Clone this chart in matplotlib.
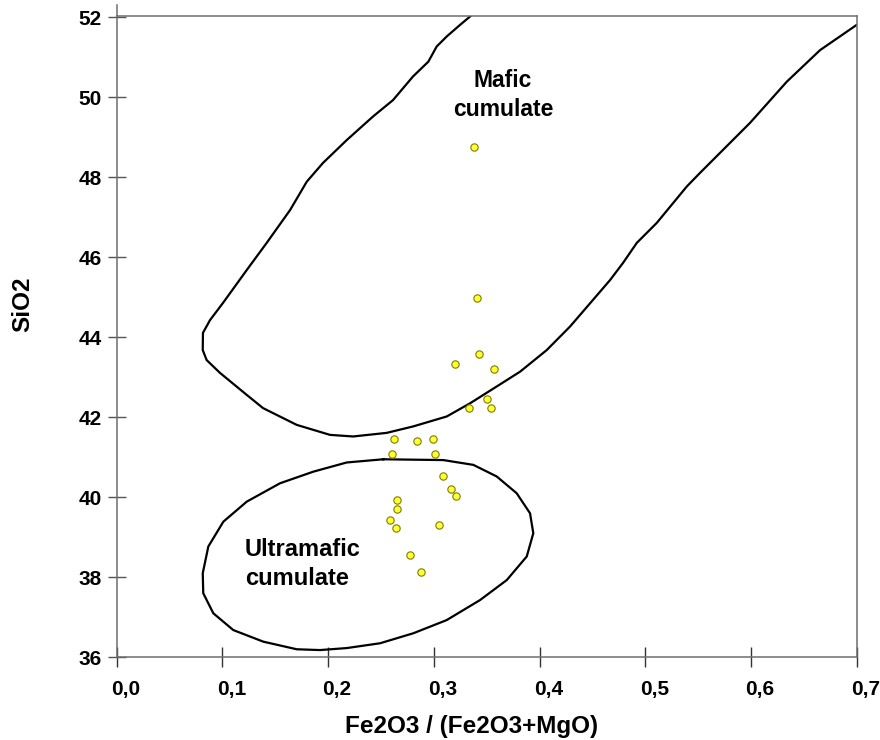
import matplotlib
matplotlib.use("Agg")
import matplotlib.pyplot as plt
from matplotlib.transforms import ScaledTranslation

plt.rcParams['font.family'] = ['Liberation Sans', 'DejaVu Sans']
plt.rcParams['font.weight'] = 'bold'

# ---- data -------------------------------------------------------------
sample_x = [0.338, 0.3406, 0.343, 0.3198, 0.3572, 0.3503, 0.3336, 0.3538,
            0.2626, 0.2841, 0.2995, 0.2607, 0.3009, 0.3087, 0.3163, 0.3207,
            0.2652, 0.2652, 0.2589, 0.2642, 0.3049, 0.2778, 0.2876]
sample_y = [48.76, 44.98, 43.58, 43.33, 43.20, 42.46, 42.22, 42.23,
            41.45, 41.40, 41.45, 41.09, 41.09, 40.53, 40.21, 40.03,
            39.93, 39.70, 39.43, 39.24, 39.31, 38.56, 38.12]

mafic_x = [0.3352, 0.3248, 0.3122, 0.3027, 0.2948, 0.2803, 0.2614, 0.2425,
           0.2176, 0.1952, 0.1798, 0.1640, 0.1419, 0.1230, 0.1006, 0.0883,
           0.0816, 0.0814, 0.0851, 0.0977, 0.1230, 0.1384, 0.1703, 0.2018,
           0.2236, 0.2554, 0.2803, 0.3122, 0.3343, 0.3595, 0.3816, 0.4068,
           0.4289, 0.4478, 0.4667, 0.4790, 0.4920, 0.5109, 0.5393, 0.5518,
           0.5991, 0.6339, 0.6654, 0.7000]
mafic_y = [52.04, 51.81, 51.52, 51.27, 50.89, 50.52, 49.93, 49.52,
           48.93, 48.36, 47.89, 47.18, 46.36, 45.68, 44.86, 44.43,
           44.11, 43.68, 43.43, 43.11, 42.56, 42.23, 41.81, 41.56,
           41.52, 41.61, 41.77, 42.02, 42.35, 42.77, 43.14, 43.68,
           44.27, 44.85, 45.43, 45.86, 46.36, 46.86, 47.77, 48.11,
           49.36, 50.39, 51.18, 51.81]

ultra_x = [0.2522, 0.2176, 0.1860, 0.1545, 0.1230, 0.1009, 0.0867, 0.0814,
           0.0819, 0.0914, 0.1103, 0.1387, 0.1703, 0.1923, 0.2176, 0.2491,
           0.2806, 0.3122, 0.3437, 0.3690, 0.3879, 0.3941, 0.3910, 0.3784,
           0.3595, 0.3374, 0.3090, 0.2522]
ultra_y = [40.95, 40.87, 40.64, 40.35, 39.89, 39.39, 38.77, 38.10,
           37.60, 37.10, 36.68, 36.39, 36.20, 36.18, 36.23, 36.35,
           36.60, 36.93, 37.43, 37.93, 38.52, 39.10, 39.60, 40.10,
           40.52, 40.81, 40.93, 40.95]

x_ticks = [0.0, 0.1, 0.2, 0.3, 0.4, 0.5, 0.6, 0.7]
x_tick_labels = ['0,0', '0,1', '0,2', '0,3', '0,4', '0,5', '0,6', '0,7']
y_ticks = [36, 38, 40, 42, 44, 46, 48, 50, 52]
y_tick_labels = ['36', '38', '40', '42', '44', '46', '48', '50', '52']

# ---- figure -----------------------------------------------------------
fig = plt.figure(figsize=(8.8, 7.4), dpi=100)
ax = fig.add_axes([0.1326, 0.1118, 0.8409, 0.867])
ax.set_xlim(0, 0.7)
ax.set_ylim(36, 52.04)

ax.plot(mafic_x, mafic_y, color='black', lw=1.6, solid_capstyle='round',
        solid_joinstyle='round', clip_on=True)
ax.plot(ultra_x, ultra_y, color='black', lw=1.6, solid_joinstyle='round')
ax.scatter(sample_x, sample_y, s=28, facecolor='#ffff33',
           edgecolor='#7d7d00', linewidth=0.8, zorder=3)

ax.text(0.3655, 50.06, 'Mafic\ncumulate', ha='center', va='center',
        fontsize=16.5, fontweight='bold', linespacing=1.3)
ax.text(0.1214, 38.33, 'Ultramafic\ncumulate', ha='left', va='center',
        fontsize=17, fontweight='bold', linespacing=1.3)

for sp in ax.spines.values():
    sp.set_color('#6e6e6e')
    sp.set_linewidth(1.1)
# left spine extends slightly above the frame
ax.plot([0, 0], [1, 1 + 11 / 641.6], transform=ax.transAxes, color='#6e6e6e',
        lw=1.1, clip_on=False)

ax.set_xticks(x_ticks)
ax.set_xticklabels(x_tick_labels)
ax.set_yticks(y_ticks)
ax.set_yticklabels(y_tick_labels)
ax.tick_params(axis='x', direction='inout', length=15, width=1.0,
               color='#333333', pad=9, labelsize=15)
ax.tick_params(axis='y', direction='inout', length=13.5, width=1.0,
               color='#555555', pad=4, labelsize=15)
for lab in ax.get_xticklabels():
    lab.set_fontweight('bold')
    lab.set_transform(lab.get_transform() +
                      ScaledTranslation(9 / 100, 0, fig.dpi_scale_trans))
for lab in ax.get_yticklabels():
    lab.set_fontweight('bold')

fig.text(471.7 / 880, 1 - 726 / 740, 'Fe2O3 / (Fe2O3+MgO)', ha='center',
         va='center', fontsize=17.5, fontweight='bold')
fig.text(22.5 / 880, 1 - 304 / 740, 'SiO2', ha='center', va='center',
         rotation=90, fontsize=17.5, fontweight='bold')

fig.savefig('out.png', dpi=100, facecolor='white')
